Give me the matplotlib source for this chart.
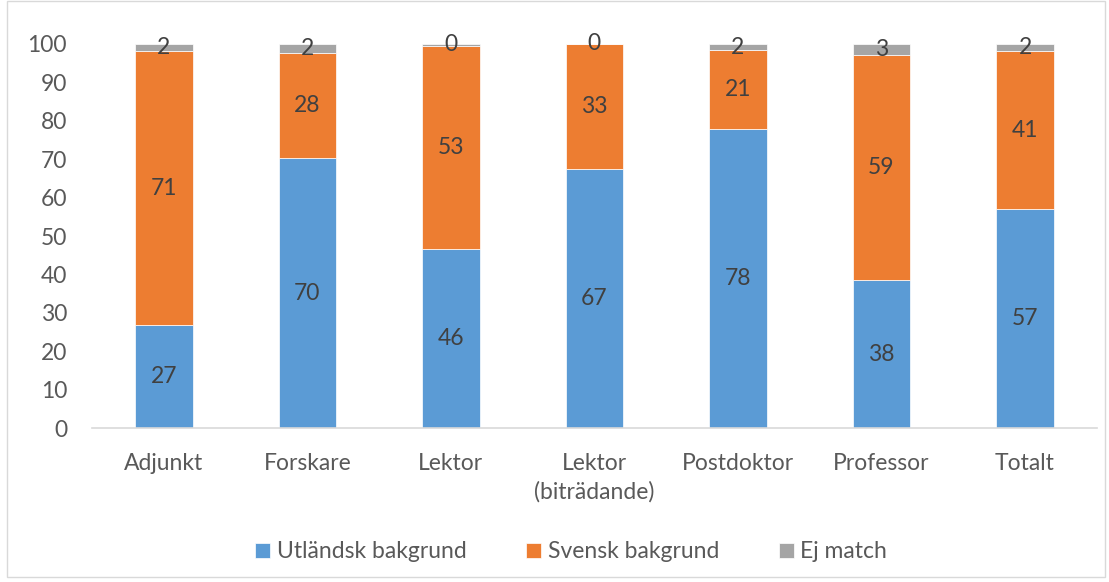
import matplotlib
matplotlib.use("Agg")
import matplotlib.pyplot as plt
from matplotlib.patches import Rectangle
import numpy as np

plt.rcParams['font.family'] = ['Lato', 'DejaVu Sans']

categories = ["Adjunkt", "Forskare", "Lektor", "Lektor\n(biträdande)", "Postdoktor", "Professor", "Totalt"]
utlandsk = [26.8, 70.3, 46.6, 67.4, 77.9, 38.5, 57.0]
svensk = [71.4, 27.4, 52.9, 32.6, 20.5, 58.6, 41.2]
ej_match = [1.8, 2.3, 0.5, 0.0, 1.6, 2.9, 1.8]
utlandsk_lbl = [27, 70, 46, 67, 78, 38, 57]
svensk_lbl = [71, 28, 53, 33, 21, 59, 41]
ej_lbl = [2, 2, 0, 0, 2, 3, 2]

series = [
    ("Utländsk bakgrund", utlandsk, utlandsk_lbl, "#5B9BD5"),
    ("Svensk bakgrund", svensk, svensk_lbl, "#ED7D31"),
    ("Ej match", ej_match, ej_lbl, "#A5A5A5"),
]

fig = plt.figure(figsize=(11.09, 5.82), dpi=100)
ax = fig.add_axes([0.083, 0.2646, 0.906, 0.6598])

x = np.arange(len(categories))
bottom = np.zeros(len(categories))
for name, vals, lbls, col in series:
    vals = np.array(vals)
    ax.bar(x, vals, 0.4, bottom=bottom, color=col, label=name,
           edgecolor="white", linewidth=0.5)
    for xi, b, v, l in zip(x, bottom, vals, lbls):
        ax.text(xi, b + v / 2, str(l), ha="center", va="center",
                fontsize=16.5, color="#404040")
    bottom = bottom + vals

ax.set_xlim(-0.5, len(categories) - 0.5)
ax.set_ylim(0, 100)
ax.set_yticks(range(0, 101, 10))
ax.set_xticks(x)
ax.set_xticklabels(categories)
for s in ["top", "right", "left"]:
    ax.spines[s].set_visible(False)
ax.spines["bottom"].set_color("#D9D9D9")
ax.spines["bottom"].set_linewidth(1.2)
ax.tick_params(axis="both", length=0, labelsize=16.5, labelcolor="#595959")
ax.tick_params(axis="y", pad=18)
ax.tick_params(axis="x", pad=18)
for t in ax.get_xticklabels():
    t.set_linespacing(1.4)

fig.legend(loc="center", bbox_to_anchor=(0.515, 0.052), ncol=3, frameon=False,
           fontsize=16.5, labelcolor="#595959", handlelength=0.65, handleheight=0.65,
           handletextpad=0.3, columnspacing=2.6)

fig.patches.append(Rectangle((0.006, 0.008), 0.99, 0.99, transform=fig.transFigure,
                             fill=False, edgecolor="#D9D9D9", linewidth=1))

fig.savefig("out.png", dpi=100)
